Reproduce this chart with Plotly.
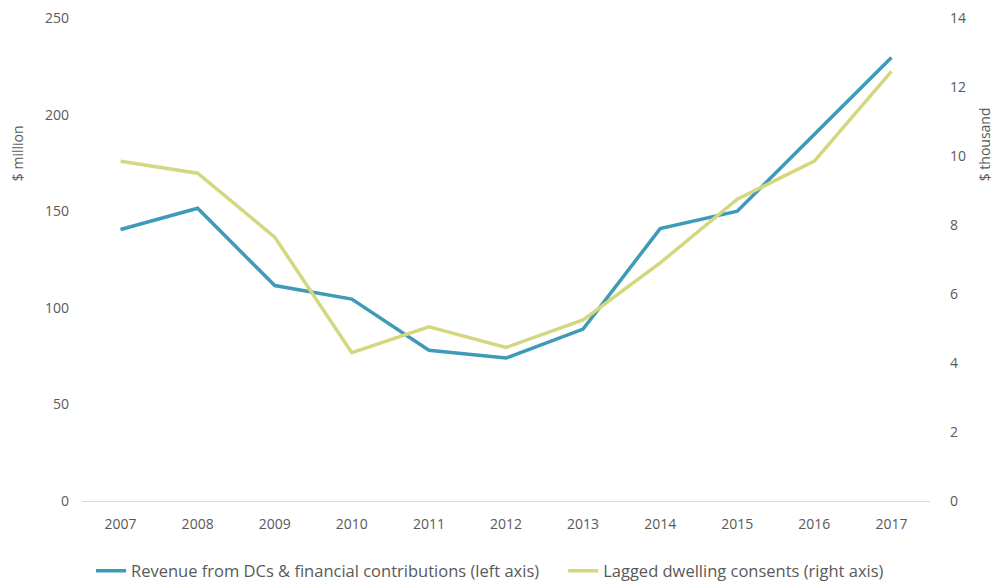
import plotly.graph_objects as go

years = ["2007", "2008", "2009", "2010", "2011", "2012", "2013", "2014", "2015", "2016", "2017"]
revenue_dcs = [140.5, 151.5, 111.5, 104.5, 78, 74, 89, 141, 150, 190, 229.5]
lagged_consents = [9.85, 9.5, 7.65, 4.3, 5.05, 4.45, 5.25, 6.9, 8.75, 9.85, 12.45]

BLUE = "#3F9AB8"
GREEN = "#D3D87F"
TEXT = "#595959"
FONT = "Open Sans"

fig = go.Figure()
fig.add_trace(go.Scatter(
    x=years, y=revenue_dcs, mode="lines",
    name="Revenue from DCs & financial contributions (left axis)",
    line=dict(color=BLUE, width=3.5), yaxis="y", legend="legend",
    showlegend=True,
))
fig.add_trace(go.Scatter(
    x=years, y=lagged_consents, mode="lines",
    name="Lagged dwelling consents (right axis)",
    line=dict(color=GREEN, width=3.5), yaxis="y2", legend="legend2",
    showlegend=True,
))

legend_style = dict(
    orientation="h", xref="container", yref="container",
    xanchor="left", y=0.024, yanchor="middle",
    font=dict(size=16.5, color=TEXT), itemwidth=30, visible=True,
)

fig.update_layout(
    template="none",
    showlegend=True,
    width=995, height=585,
    margin=dict(l=82, r=65, t=18, b=84),
    paper_bgcolor="white", plot_bgcolor="white",
    font=dict(family=FONT, size=14, color=TEXT),
    xaxis=dict(
        type="category", range=[-0.5, 10.5], showgrid=False, zeroline=False,
        showline=True, linecolor="#D9D9D9", linewidth=1,
        ticks="", ticklabelstandoff=10,
        tickfont=dict(size=14, color=TEXT),
    ),
    yaxis=dict(
        range=[0, 250], dtick=50, showgrid=False, zeroline=False,
        showline=False, ticks="", ticklabelstandoff=12,
        tickfont=dict(size=14, color=TEXT),
    ),
    yaxis2=dict(
        range=[0, 14], dtick=2, overlaying="y", side="right",
        showgrid=False, zeroline=False, showline=False, ticks="",
        ticklabelstandoff=19, tickfont=dict(size=14, color=TEXT),
    ),
    legend=dict(x=0.0915, **legend_style),
    legend2=dict(x=0.566, **legend_style),
    annotations=[
        dict(text="$ million", textangle=-90, xref="paper", yref="paper",
             x=-0.0767, y=0.72, xanchor="center", yanchor="middle",
             showarrow=False, font=dict(size=14, color=TEXT)),
        dict(text="$ thousand", textangle=-90, xref="paper", yref="paper",
             x=1.064, y=0.739, xanchor="center", yanchor="middle",
             showarrow=False, font=dict(size=14, color=TEXT)),
    ],
)

fig.write_html("out.html")
